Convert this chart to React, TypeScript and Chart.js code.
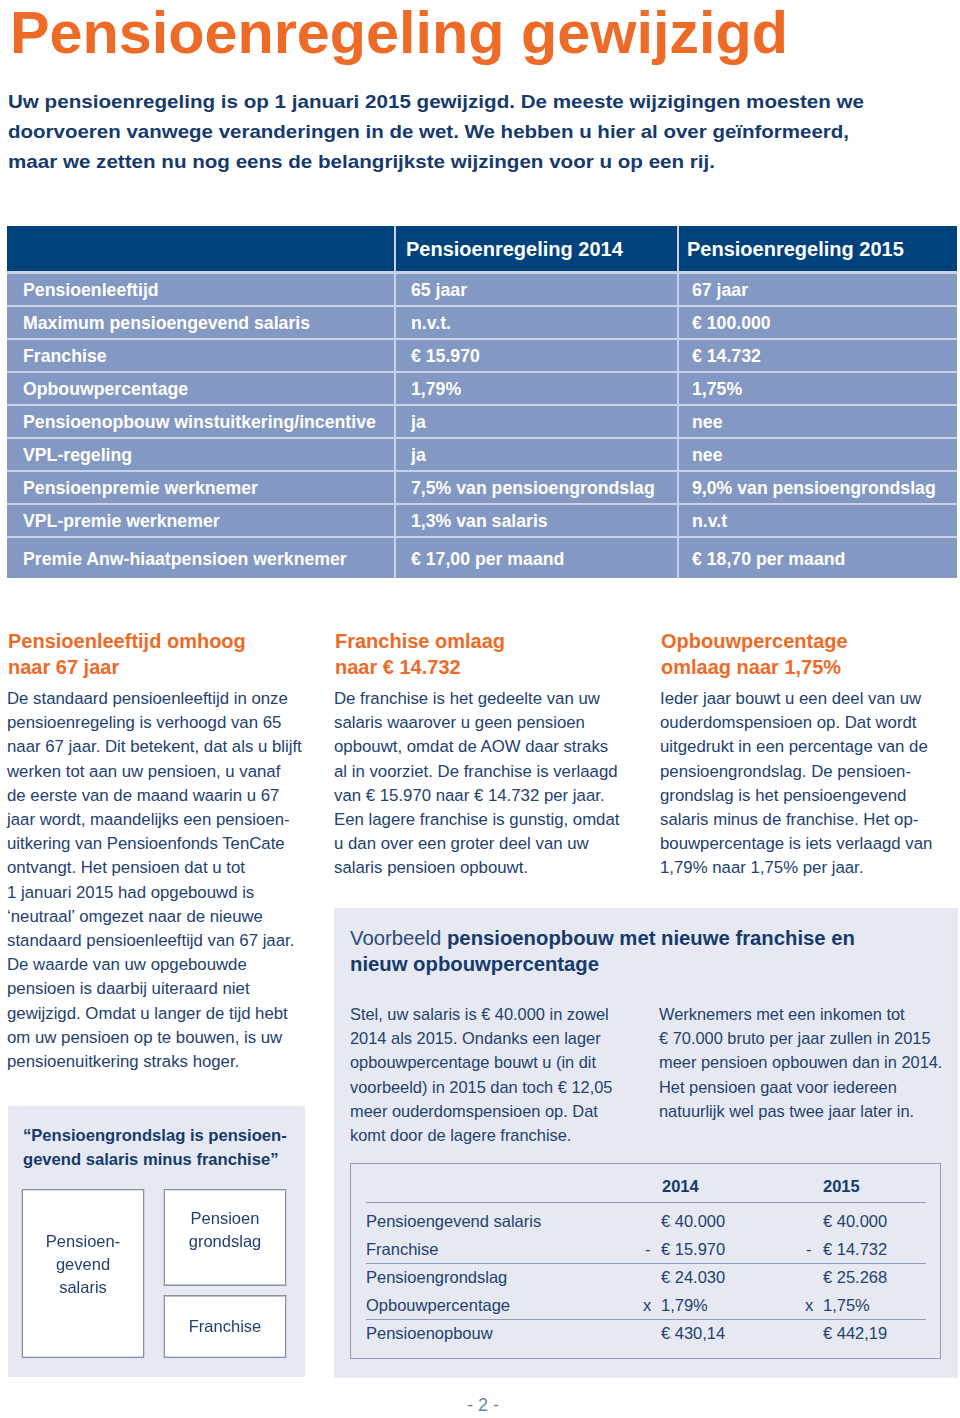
import React, { useEffect, useRef } from "react";
import { Chart, registerables } from "chart.js";
Chart.register(...registerables);

const FONT = '"Liberation Sans", Arial, Helvetica, sans-serif';
const ORANGE = "#ee6b27";
const NAVY = "#163a6c";
const TEXT = "#23416f";
const PANEL = "#e6e9f1";
const BOX_BORDER = "#8890a6";
const HEADER_BG = "#00427b";
const ROW_BG = "#8398c2";
const ROW_LINE = "#c9d2e5";

// ---- Diagram data (Pensioengrondslag = pensioengevend salaris - franchise) ----
const diagramCategories = ["Pensioengevend salaris", "Pensioengrondslag + Franchise"];
const salarisValues = [40000, null];
const franchiseValues = [null, 15970];
const grondslagValues = [null, 24030];
const salarisLabel = ["Pensioen-", "gevend", "salaris"];
const grondslagLabel = ["Pensioen", "grondslag"];
const franchiseLabel = ["Franchise"];

// ---- Main table ----
const tableHeaders = ["", "Pensioenregeling 2014", "Pensioenregeling 2015"];
const tableLabels = [
  "Pensioenleeftijd",
  "Maximum pensioengevend salaris",
  "Franchise",
  "Opbouwpercentage",
  "Pensioenopbouw winstuitkering/incentive",
  "VPL-regeling",
  "Pensioenpremie werknemer",
  "VPL-premie werknemer",
  "Premie Anw-hiaatpensioen werknemer",
];
const values2014 = [
  "65 jaar",
  "n.v.t.",
  "€ 15.970",
  "1,79%",
  "ja",
  "ja",
  "7,5% van pensioengrondslag",
  "1,3% van salaris",
  "€ 17,00 per maand",
];
const values2015 = [
  "67 jaar",
  "€ 100.000",
  "€ 14.732",
  "1,75%",
  "nee",
  "nee",
  "9,0% van pensioengrondslag",
  "n.v.t",
  "€ 18,70 per maand",
];

// ---- Example table ----
const exampleLabels = ["Pensioengevend salaris", "Franchise", "Pensioengrondslag", "Opbouwpercentage", "Pensioenopbouw"];
const exampleOps = ["", "-", "", "x", ""];
const example2014 = ["€ 40.000", "€ 15.970", "€ 24.030", "1,79%", "€ 430,14"];
const example2015 = ["€ 40.000", "€ 14.732", "€ 25.268", "1,75%", "€ 442,19"];

// ---- Texts ----
const introLines = [
  "Uw pensioenregeling is op 1 januari 2015 gewijzigd. De meeste wijzigingen moesten we",
  "doorvoeren vanwege veranderingen in de wet. We hebben u hier al over geïnformeerd,",
  "maar we zetten nu nog eens de belangrijkste wijzingen voor u op een rij.",
];
const introWidths = [856, 841, 707];

const col1Head = ["Pensioenleeftijd omhoog", "naar 67 jaar"];
const col1Body = [
  "De standaard pensioenleeftijd in onze",
  "pensioenregeling is verhoogd van 65",
  "naar 67 jaar. Dit betekent, dat als u blijft",
  "werken tot aan uw pensioen, u vanaf",
  "de eerste van de maand waarin u 67",
  "jaar wordt, maandelijks een pensioen-",
  "uitkering van Pensioenfonds TenCate",
  "ontvangt. Het pensioen dat u tot",
  "1 januari 2015 had opgebouwd is",
  "‘neutraal’ omgezet naar de nieuwe",
  "standaard pensioenleeftijd van 67 jaar.",
  "De waarde van uw opgebouwde",
  "pensioen is daarbij uiteraard niet",
  "gewijzigd. Omdat u langer de tijd hebt",
  "om uw pensioen op te bouwen, is uw",
  "pensioenuitkering straks hoger.",
];
const col2Head = ["Franchise omlaag", "naar € 14.732"];
const col2Body = [
  "De franchise is het gedeelte van uw",
  "salaris waarover u geen pensioen",
  "opbouwt, omdat de AOW daar straks",
  "al in voorziet. De franchise is verlaagd",
  "van € 15.970 naar € 14.732 per jaar.",
  "Een lagere franchise is gunstig, omdat",
  "u dan over een groter deel van uw",
  "salaris pensioen opbouwt.",
];
const col3Head = ["Opbouwpercentage", "omlaag naar 1,75%"];
const col3Body = [
  "Ieder jaar bouwt u een deel van uw",
  "ouderdomspensioen op. Dat wordt",
  "uitgedrukt in een percentage van de",
  "pensioengrondslag. De pensioen-",
  "grondslag is het pensioengevend",
  "salaris minus de franchise. Het op-",
  "bouwpercentage is iets verlaagd van",
  "1,79% naar 1,75% per jaar.",
];
const exLeft = [
  "Stel, uw salaris is € 40.000 in zowel",
  "2014 als 2015. Ondanks een lager",
  "opbouwpercentage bouwt u (in dit",
  "voorbeeld) in 2015 dan toch € 12,05",
  "meer ouderdomspensioen op. Dat",
  "komt door de lagere franchise.",
];
const exRight = [
  "Werknemers met een inkomen tot",
  "€ 70.000 bruto per jaar zullen in 2015",
  "meer pensioen opbouwen dan in 2014.",
  "Het pensioen gaat voor iedereen",
  "natuurlijk wel pas twee jaar later in.",
];
const quoteLines = ["“Pensioengrondslag is pensioen-", "gevend salaris minus franchise”"];

let measureCtx: CanvasRenderingContext2D | null = null;
function measure(text: string, font: string) {
  if (!measureCtx) measureCtx = document.createElement("canvas").getContext("2d");
  if (!measureCtx) return 0;
  measureCtx.font = font;
  return measureCtx.measureText(text).width;
}

function Line({ x, y, text, size, weight = 400, color = TEXT, fit, lh }: any) {
  const h = lh ?? Math.round(size * 1.5);
  let transform: string | undefined;
  if (fit) {
    const w = measure(text, `${weight} ${size}px ${FONT}`);
    if (w > 0) transform = `scaleX(${fit / w})`;
  }
  return (
    <div
      style={{
        position: "absolute",
        left: x,
        top: y - h / 2,
        height: h,
        lineHeight: h + "px",
        fontSize: size,
        fontWeight: weight,
        color,
        whiteSpace: "nowrap",
        transform,
        transformOrigin: "0 50%",
      }}
    >
      {text}
    </div>
  );
}

const labelPlugin = {
  id: "boxLabels",
  afterDatasetsDraw(chart: any) {
    const ctx = chart.ctx;
    const gap = 6;
    const g = chart.getDatasetMeta(2).data[1];
    ctx.save();
    if (g) {
      const p = g.getProps(["x", "y", "base", "width"], true);
      const left = p.x - p.width / 2;
      const right = p.x + p.width / 2;
      ctx.fillStyle = PANEL;
      ctx.fillRect(left - 2, p.base - gap, p.width + 4, gap * 2);
      ctx.strokeStyle = BOX_BORDER;
      ctx.lineWidth = 1.5;
      ctx.beginPath();
      ctx.moveTo(left, p.base - gap + 0.75);
      ctx.lineTo(right, p.base - gap + 0.75);
      ctx.moveTo(left, p.base + gap - 0.75);
      ctx.lineTo(right, p.base + gap - 0.75);
      ctx.stroke();
    }
    ctx.fillStyle = TEXT;
    ctx.font = `16.5px ${FONT}`;
    ctx.textAlign = "center";
    ctx.textBaseline = "middle";
    const items = [
      { ds: 0, idx: 0, lines: salarisLabel, dt: 0, db: 0, shift: -8 },
      { ds: 2, idx: 1, lines: grondslagLabel, dt: 0, db: gap, shift: -6 },
      { ds: 1, idx: 1, lines: franchiseLabel, dt: gap, db: 0, shift: 0 },
    ];
    items.forEach((it) => {
      const el = chart.getDatasetMeta(it.ds).data[it.idx];
      if (!el) return;
      const p = el.getProps(["x", "y", "base"], true);
      const top = Math.min(p.y, p.base) + it.dt;
      const bottom = Math.max(p.y, p.base) - it.db;
      const c = (top + bottom) / 2 + it.shift;
      const n = it.lines.length;
      it.lines.forEach((t: string, i: number) => {
        ctx.fillText(t, p.x, c + (i - (n - 1) / 2) * 23);
      });
    });
    ctx.restore();
  },
};

function Diagram() {
  const ref = useRef<HTMLCanvasElement>(null);
  useEffect(() => {
    if (!ref.current) return;
    const common = {
      backgroundColor: "#ffffff",
      borderColor: BOX_BORDER,
      borderWidth: 1.5,
      borderSkipped: false,
      barPercentage: 0.866,
      categoryPercentage: 1,
    };
    const chart = new Chart(ref.current, {
      type: "bar",
      data: {
        labels: diagramCategories,
        datasets: [
          { label: "Pensioengevend salaris", data: salarisValues as any, ...common },
          { label: "Franchise", data: franchiseValues as any, ...common },
          { label: "Pensioengrondslag", data: grondslagValues as any, ...common },
        ],
      },
      options: {
        animation: false,
        responsive: false,
        maintainAspectRatio: false,
        layout: { padding: { top: 2, bottom: 2, left: 0, right: 0 } },
        plugins: { legend: { display: false }, tooltip: { enabled: false } },
        scales: {
          x: { stacked: true, display: false },
          y: { stacked: true, display: false, min: 0, max: 40000 },
        },
      } as any,
      plugins: [labelPlugin],
    });
    return () => chart.destroy();
  }, []);
  return (
    <canvas
      ref={ref}
      width={284}
      height={173}
      style={{ position: "absolute", left: 12, top: 1187, width: 284, height: 173 }}
    />
  );
}

export default function App() {
  const rowB = (i: number) => (i < 9 ? 272 + 33 * i : 578);
  const colX = [7, 394, 677];
  return (
    <div
      style={{
        position: "absolute",
        left: 0,
        top: 0,
        width: 960,
        height: 1418,
        background: "#ffffff",
        fontFamily: FONT,
        overflow: "hidden",
      }}
    >
      {/* Title */}
      <Line x={10} y={33} text="Pensioenregeling gewijzigd" size={59} weight={700} color={ORANGE} fit={778} lh={70} />

      {/* Intro */}
      {introLines.map((t, i) => (
        <Line key={i} x={8} y={101 + i * 30} text={t} size={19} weight={700} color={NAVY} fit={introWidths[i]} />
      ))}

      {/* Main table */}
      <div style={{ position: "absolute", left: 7, top: 226, width: 950, height: 352, background: ROW_LINE }} />
      <div style={{ position: "absolute", left: 7, top: 226, width: 950, height: 45, background: HEADER_BG }} />
      {tableLabels.map((_, i) => (
        <div
          key={"bg" + i}
          style={{
            position: "absolute",
            left: 7,
            top: rowB(i) + 1.5,
            width: 950,
            height: rowB(i + 1) - rowB(i) - 1.5,
            background: ROW_BG,
          }}
        />
      ))}
      {[colX[1], colX[2]].map((x, i) => (
        <div key={"cd" + i} style={{ position: "absolute", left: x, top: 226, width: 2, height: 352, background: ROW_LINE }} />
      ))}
      <Line x={406} y={249} text={tableHeaders[1]} size={20} weight={700} color="#ffffff" />
      <Line x={687} y={249} text={tableHeaders[2]} size={20} weight={700} color="#ffffff" />
      {tableLabels.map((t, i) => {
        const cy = (rowB(i) + rowB(i + 1)) / 2 + 2;
        return (
          <React.Fragment key={"r" + i}>
            <Line x={23} y={cy} text={t} size={17.7} weight={700} color="#ffffff" />
            <Line x={411} y={cy} text={values2014[i]} size={17.7} weight={700} color="#ffffff" />
            <Line x={692} y={cy} text={values2015[i]} size={17.7} weight={700} color="#ffffff" />
          </React.Fragment>
        );
      })}

      {/* Three columns */}
      {[
        { x: 7, head: col1Head, body: col1Body },
        { x: 334, head: col2Head, body: col2Body },
        { x: 660, head: col3Head, body: col3Body },
      ].map((c, ci) => (
        <React.Fragment key={"col" + ci}>
          {c.head.map((t, i) => (
            <Line key={"h" + i} x={c.x + 1} y={641 + i * 26} text={t} size={20} weight={700} color={ORANGE} />
          ))}
          {c.body.map((t, i) => (
            <Line key={"b" + i} x={c.x} y={699 + i * 24.2} text={t} size={16.8} color={TEXT} lh={24} />
          ))}
        </React.Fragment>
      ))}

      {/* Voorbeeld panel */}
      <div style={{ position: "absolute", left: 334, top: 908, width: 624, height: 470, background: PANEL }} />
      <div
        style={{
          position: "absolute",
          left: 350,
          top: 938 - 14,
          height: 28,
          lineHeight: "28px",
          fontSize: 20.3,
          color: NAVY,
          whiteSpace: "nowrap",
        }}
      >
        <span style={{ fontWeight: 400, color: "#2a4a7a" }}>Voorbeeld </span>
        <span style={{ fontWeight: 700 }}>pensioenopbouw met nieuwe franchise en</span>
      </div>
      <Line x={350} y={964} text="nieuw opbouwpercentage" size={20.3} weight={700} color={NAVY} lh={28} />
      {exLeft.map((t, i) => (
        <Line key={"el" + i} x={350} y={1014 + i * 24.2} text={t} size={16.4} color={TEXT} lh={24} />
      ))}
      {exRight.map((t, i) => (
        <Line key={"er" + i} x={659} y={1014 + i * 24.2} text={t} size={16.4} color={TEXT} lh={24} />
      ))}

      {/* Example table */}
      <div
        style={{
          position: "absolute",
          left: 350,
          top: 1163,
          width: 591,
          height: 196,
          border: "1.5px solid #8d9cb9",
          boxSizing: "border-box",
        }}
      />
      <Line x={662} y={1186} text="2014" size={16.5} weight={700} color={NAVY} />
      <Line x={823} y={1186} text="2015" size={16.5} weight={700} color={NAVY} />
      {[1202, 1263, 1319].map((y, i) => (
        <div key={"hl" + i} style={{ position: "absolute", left: 366, top: y, width: 560, height: 1.2, background: "#8d9cb9" }} />
      ))}
      {exampleLabels.map((t, i) => {
        const cy = 1221 + i * 28;
        return (
          <React.Fragment key={"ex" + i}>
            <Line x={366} y={cy} text={t} size={16.5} color={TEXT} />
            {exampleOps[i] && <Line x={i === 3 ? 643 : 645} y={cy} text={exampleOps[i]} size={16.5} color={TEXT} />}
            {exampleOps[i] && <Line x={i === 3 ? 805 : 806} y={cy} text={exampleOps[i]} size={16.5} color={TEXT} />}
            <Line x={661} y={cy} text={example2014[i]} size={16.5} color={TEXT} />
            <Line x={823} y={cy} text={example2015[i]} size={16.5} color={TEXT} />
          </React.Fragment>
        );
      })}

      {/* Quote panel with diagram */}
      <div style={{ position: "absolute", left: 8, top: 1106, width: 297, height: 271, background: PANEL }} />
      {quoteLines.map((t, i) => (
        <Line key={"q" + i} x={23} y={1135 + i * 24} text={t} size={16.6} weight={700} color={NAVY} />
      ))}
      <Diagram />

      {/* Page number */}
      <div
        style={{
          position: "absolute",
          left: 433,
          width: 100,
          top: 1393,
          height: 24,
          lineHeight: "24px",
          textAlign: "center",
          fontSize: 18,
          color: "#6d82a8",
        }}
      >
        - 2 -
      </div>
    </div>
  );
}
